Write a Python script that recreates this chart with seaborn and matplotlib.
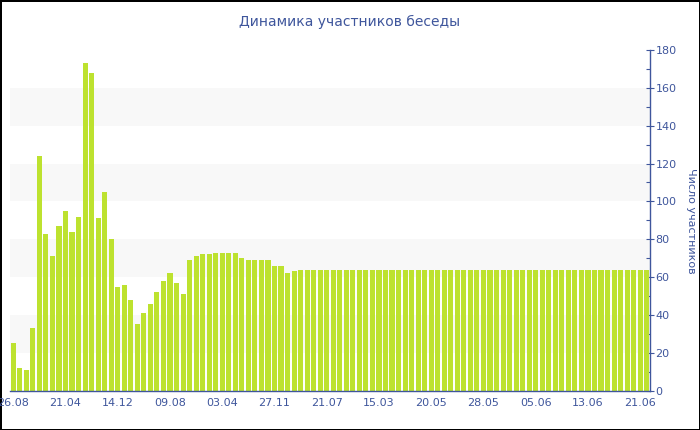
import seaborn as sns
import matplotlib.pyplot as plt
import pandas as pd

# daily/monthly participant counts
counts = [25, 12, 11, 33, 124, 83, 71, 87, 95, 84, 92, 173, 168, 91, 105, 80,
          55, 56, 48, 35, 41, 46, 52, 58, 62, 57, 51, 69, 71, 72, 72, 73,
          73, 73, 73, 70, 69, 69, 69, 69, 66, 66, 62, 63, 64, 64, 64, 64,
          64, 64, 64, 64, 64, 64, 64, 64, 64, 64, 64, 64, 64, 64, 64, 64,
          64, 64, 64, 64, 64, 64, 64, 64, 64, 64, 64, 64, 64, 64, 64, 64,
          64, 64, 64, 64, 64, 64, 64, 64, 64, 64, 64, 64, 64, 64, 64, 64,
          64, 64]
tick_labels = ["26.08", "21.04", "14.12", "09.08", "03.04", "27.11", "21.07",
               "15.03", "20.05", "28.05", "05.06", "13.06", "21.06"]

title = "Динамика участников беседы"
ylabel = "Число участников"

blue = "#3f569c"
green = "#bde22f"

df = pd.DataFrame({"idx": range(len(counts)), "count": counts})

sns.set_style("white")
plt.rcParams['font.family'] = ['DejaVu Sans']

fig = plt.figure(figsize=(7, 4.3), dpi=100)
fig.patch.set_edgecolor("black")
fig.patch.set_linewidth(2)
ax = fig.add_axes([10 / 700, 1 - 390.7 / 430, 640 / 700, 340.7 / 430])

# alternating bands
for lo in range(20, 180, 40):
    ax.axhspan(lo, lo + 20, color="#f8f8f8", zorder=0, lw=0)

sns.barplot(data=df, x="idx", y="count", color=green, saturation=1,
            width=0.78, linewidth=0, ax=ax, zorder=2)

ax.set_xlim(-0.5, len(counts) - 0.5)
ax.set_ylim(0, 180)
ax.set_xticks(range(0, len(counts), 8))
ax.set_xticklabels(tick_labels)
ax.set_xlabel("")

ax.yaxis.tick_right()
ax.yaxis.set_label_position("right")
ax.set_yticks(range(0, 181, 20))
ax.set_yticks(range(10, 180, 20), minor=True)
ax.set_ylabel(ylabel, rotation=270, color=blue, fontsize=8, labelpad=14)

for s in ["top", "left"]:
    ax.spines[s].set_visible(False)
for s in ["bottom", "right"]:
    ax.spines[s].set_color(blue)
    ax.spines[s].set_linewidth(1)

ax.tick_params(axis="x", colors=blue, labelsize=8, length=3, width=0.8, pad=2)
ax.tick_params(axis="y", which="major", colors=blue, labelsize=8, length=6,
               width=0.8, direction="inout", pad=1)
ax.tick_params(axis="y", which="minor", colors=blue, length=3, width=0.8,
               direction="in")

fig.text(0.5, 1 - 22 / 430, title, ha="center", va="center", color=blue,
         fontsize=10)

fig.savefig("out.png", dpi=100)
